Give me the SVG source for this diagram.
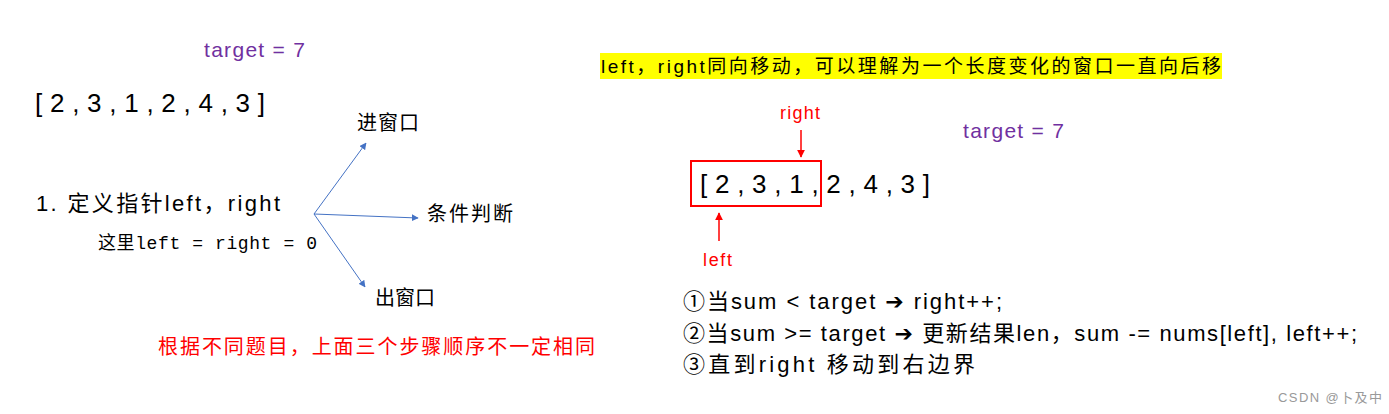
<svg xmlns="http://www.w3.org/2000/svg" width="1389" height="414" viewBox="0 0 1389 414">
<defs>
<style>
.t{font-family:"Liberation Sans","Noto Sans CJK SC",sans-serif;fill:#000}
.p{fill:#7030A0;font-size:21px}
.r{fill:#FF0000}
.arr{font-size:26px}
.ar{font-family:"DejaVu Sans",sans-serif;font-weight:bold}
.blue{stroke:#4472C4;stroke-width:1;fill:none}
.red{stroke:#FF0000;stroke-width:1.5;fill:none}
</style>
<marker id="mb" viewBox="0 0 10 10" refX="9" refY="5" markerWidth="7" markerHeight="7" orient="auto" markerUnits="userSpaceOnUse"><path d="M0,0 L10,5 L0,10 z" fill="#4472C4"/></marker>
<marker id="mr" viewBox="0 0 10 10" refX="9" refY="5" markerWidth="8" markerHeight="8" orient="auto" markerUnits="userSpaceOnUse"><path d="M0,0 L10,5 L0,10 z" fill="#FF0000"/></marker>
</defs>
<rect width="1389" height="414" fill="#fff"/>

<g id="left-target"><text class="t p" x="204" y="57" textLength="101">target = 7</text></g>
<g id="left-array"><text class="t arr" x="35" y="112" textLength="230">[ 2 , 3 , 1 , 2 , 4 , 3 ]</text></g>
<g id="define"><text class="t" x="36" y="211" font-size="22" textLength="244">1. 定义指针left，right</text></g>
<g id="define-note"><text x="98" y="249" font-size="18" font-family="Liberation Mono,'Noto Sans CJK SC',monospace" textLength="219">这里left = right = 0</text></g>
<g id="enter"><text class="t" x="357" y="130" font-size="20" textLength="62">进窗口</text></g>
<g id="check"><text class="t" x="427" y="221" font-size="20" textLength="86">条件判断</text></g>
<g id="exit"><text class="t" x="375" y="305" font-size="20" textLength="60">出窗口</text></g>
<g id="note-red"><text class="t r" x="158" y="354" font-size="20" textLength="437">根据不同题目，上面三个步骤顺序不一定相同</text></g>

<g id="banner">
<rect x="600" y="53" width="622" height="26" fill="#FFFF00"/>
<text class="t" x="601" y="73" font-size="19" textLength="620">left，right同向移动，可以理解为一个长度变化的窗口一直向后移</text>
</g>

<g id="right-label"><text class="t r" x="780" y="119" font-size="18" textLength="40">right</text></g>
<g id="left-label"><text class="t r" x="703" y="266" font-size="18" textLength="29">left</text></g>
<g id="window"><rect x="691" y="161" width="130" height="45" fill="none" stroke="#FF0000" stroke-width="2"/></g>
<g id="right-array"><text class="t arr" x="700" y="193" textLength="230">[ 2 , 3 , 1 , 2 , 4 , 3 ]</text></g>
<g id="right-target"><text class="t p" x="963" y="138" textLength="101">target = 7</text></g>

<g id="steps">
<text class="t" x="683" y="309" font-size="22" textLength="319">①当sum &lt; target <tspan class="ar">➔</tspan> right++;</text>
<text class="t" x="683" y="341" font-size="22" textLength="674">②当sum &gt;= target <tspan class="ar">➔</tspan> 更新结果len，sum -= nums[left], left++;</text>
<text class="t" x="683" y="372" font-size="22" textLength="292">③直到right 移动到右边界</text>
</g>

<g id="watermark"><text x="1278" y="402" font-size="13" fill="#999" font-family="Liberation Sans,'Noto Sans CJK SC',sans-serif" textLength="104">CSDN @卜及中</text></g>

<g id="connectors">
<line class="blue" x1="314" y1="214" x2="366" y2="143" marker-end="url(#mb)"/>
<line class="blue" x1="314" y1="214" x2="418" y2="218" marker-end="url(#mb)"/>
<line class="blue" x1="314" y1="214" x2="365" y2="287" marker-end="url(#mb)"/>
<line class="red" x1="801" y1="130" x2="801" y2="157" marker-end="url(#mr)"/>
<line class="red" x1="719" y1="241" x2="719" y2="213" marker-end="url(#mr)"/>
</g>
</svg>
